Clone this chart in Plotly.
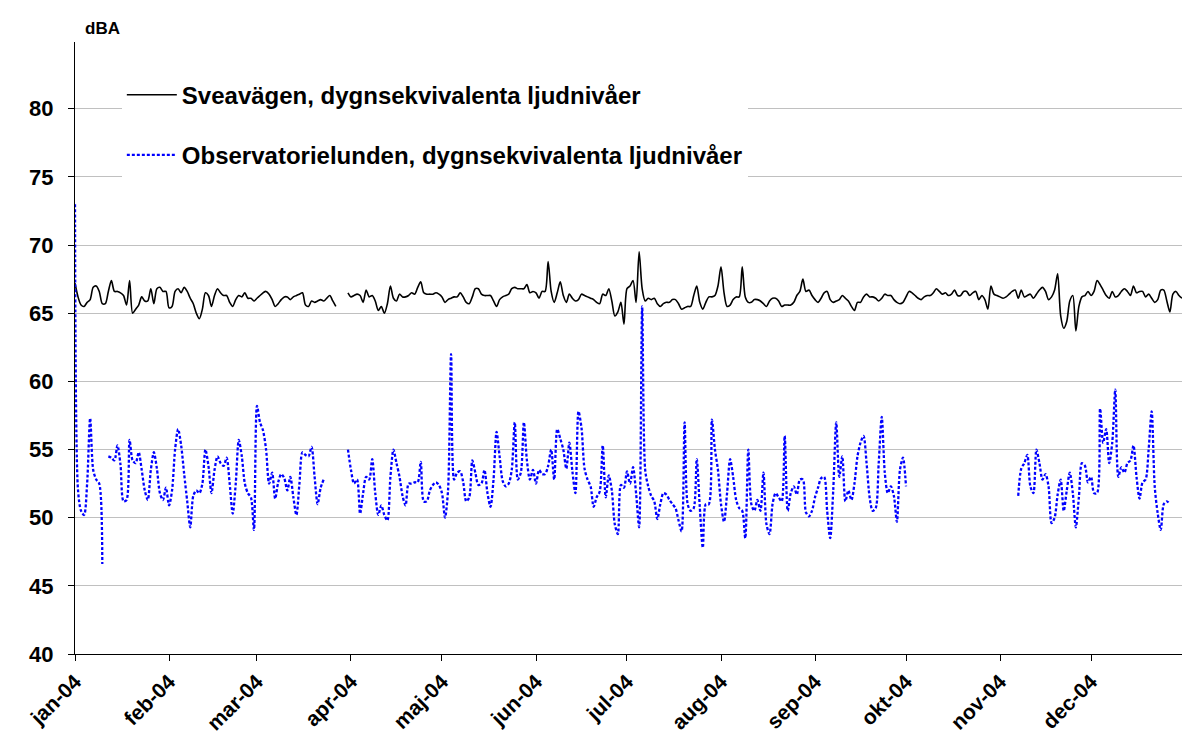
import pandas as pd
import plotly.graph_objects as go

N = None
dates = pd.date_range("2004-01-01", "2004-12-31", freq="D")

month_ticks = pd.date_range("2004-01-01", "2004-12-01", freq="MS")
month_labels = ["jan-04", "feb-04", "mar-04", "apr-04", "maj-04", "jun-04",
                "jul-04", "aug-04", "sep-04", "okt-04", "nov-04", "dec-04"]

sveavagen = [
    67.2, 66.2, 65.6, 65.5, 65.8, 66.0, 66.9, 67.0, 66.6, 65.7, 65.7, 66.6, 67.4, 66.6, 66.6, 66.5,
    66.3, 65.6, 67.4, 65.0, 65.3, 65.6, 66.2, 65.9, 65.9, 66.8, 65.7, 66.8, 66.9, 66.6, 66.6,
    65.4, 65.5, 66.6, 66.8, 66.5, 66.9, 66.6, 66.1, 65.7, 65.0, 64.6, 65.3, 66.5, 66.3, 65.5,
    66.3, 66.8, 66.5, 66.3, 66.3, 65.8, 65.5, 66.0, 66.3, 66.2, 66.5, 66.1, 66.1, 65.9,
    66.1, 66.3, 66.5, 66.6, 66.4, 66.0, 65.5, 65.7, 66.0, 66.2, 66.2, 66.0, 66.2, 66.3, 66.4,
    66.5, 65.6, 65.5, 65.9, 65.8, 65.9, 66.0, 65.9, 66.1, 66.3, 65.9, 65.5, N, N, N, 66.5,
    66.2, 66.3, 66.4, 66.3, 65.8, 66.7, 66.2, 66.3, 65.9, 65.2, 65.5, 65.0, 65.7, 67.0, 66.1,
    65.9, 66.4, 66.2, 66.2, 66.3, 66.5, 66.4, 66.9, 67.3, 66.5, 66.4, 66.4, 66.4, 66.5, 66.4,
    66.2, 65.8, 66.0, 66.1, 66.2, 66.2, 66.5, 66.2, 65.8, 65.7, 66.2, 66.8, 66.8, 66.4, 66.3,
    66.3, 66.3, 65.9, 65.5, 66.0, 66.2, 66.3, 66.4, 66.8, 66.9, 66.8, 66.8, 66.8, 67.1, 66.5,
    66.6, 66.5, 66.1, 66.6, 66.6, 68.8, 66.6, 65.8, 66.5, 67.3, 66.3, 65.8, 66.4, 66.1, 65.9,
    66.0, 66.4, 66.3, 66.2, 66.1, 66.0, 65.8, 65.7, 66.4, 66.3, 66.8, 65.9, 64.8, 65.1, 65.8,
    64.2, 66.8, 67.0, 67.4, 65.8, 69.5, 66.8, 65.9, 66.1, 66.0, 66.1, 65.7, 65.5, 65.7, 65.8,
    65.8, 66.0, 66.0, 65.7, 65.3, 65.4, 65.5, 65.5, 66.3, 67.0, 65.8, 65.3, 65.8, 66.2, 66.2,
    66.3, 67.0, 68.4, 66.5, 65.5, 65.6, 66.0, 66.2, 66.2, 68.4, 66.2, 65.8, 65.8, 66.0, 66.0,
    65.9, 65.7, 65.5, 65.9, 66.1, 66.1, 65.9, 65.5, 65.6, 65.6, 65.6, 65.8, 66.3, 66.6, 67.5,
    66.6, 66.7, 66.3, 66.0, 65.8, 66.1, 66.5, 66.6, 66.0, 65.8, 65.9, 66.0, 66.3, 66.1, 65.9,
    65.5, 65.2, 65.8, 65.8, 66.2, 66.4, 66.2, 66.2, 66.1, 65.9, 66.1, 66.4, 66.3, 66.3, 66.0,
    65.8, 65.7, 65.8, 66.2, 66.6, 66.5, 66.3, 66.1, 66.0, 66.2, 66.3, 66.3, 66.5, 66.8, 66.6,
    66.4, 66.5, 66.3, 66.4, 66.7, 66.3, 66.3, 66.6, 66.6, 66.3, 66.5, 66.6, 66.0, 66.3, 66.0,
    65.3, 67.0, 66.4, 66.3, 66.2, 66.1, 66.2, 66.4, 66.6, 66.7, 66.1, 66.7, 66.2, 66.3, 66.4,
    66.1, 66.4, 66.7, 66.9, 66.6, 66.0, 66.2, 66.7, 67.9, 64.8, 63.9, 64.4, 65.9, 66.3, 63.7,
    65.5, 66.2, 66.3, 66.6, 66.3, 66.6, 67.4, 67.1, 66.7, 66.3, 66.1, 66.6, 66.2, 66.3, 66.6,
    66.8, 66.6, 66.3, 67.0, 66.5, 66.6, 66.6, 66.2, 66.4, 66.1, 65.8, 66.0, 66.7, 66.7, 65.9,
    65.1, 66.4, 66.6, 66.3, 66.1,
]

observatorielunden = [
    73.0, 52.0, 50.5, 50.2, 52.5, 57.3, 53.5, 52.8, 52.5, 46.6, N, 54.5, 54.4, 54.2, 55.3, 53.9,
    51.2, 51.3, 55.7, 54.2, 54.0, 54.8, 53.5, 52.0, 51.3, 53.5, 54.8, 53.6, 51.8, 51.3, 52.2,
    50.9, 52.0, 55.0, 56.5, 55.3, 53.2, 51.2, 49.3, 51.6, 52.0, 51.8, 52.5, 55.0, 53.8, 51.8,
    53.5, 54.5, 54.0, 53.8, 54.4, 52.5, 50.3, 52.5, 55.7, 54.5, 52.5, 51.8, 51.5, 49.1,
    58.2, 57.0, 56.4, 55.0, 52.5, 53.3, 51.4, 52.6, 53.2, 52.9, 52.0, 53.0, 51.5, 50.2, 52.5,
    54.8, 54.6, 54.5, 55.2, 53.0, 51.0, 52.2, 52.8, N, N, N, N, N, N, N, 55.0,
    53.5, 52.5, 52.8, 50.3, 51.8, 53.0, 52.8, 54.3, 51.8, 50.2, 50.9, 50.2, 49.8, 53.0, 55.0,
    54.0, 53.0, 51.6, 50.9, 52.5, 52.5, 52.6, 52.6, 54.1, 51.2, 51.2, 52.0, 52.4, 52.6, 52.4,
    51.8, 50.0, 52.0, 62.0, 52.8, 53.3, 53.4, 52.6, 51.2, 51.5, 54.2, 53.3, 52.4, 52.5, 53.5,
    51.8, 50.8, 52.8, 56.3, 54.5, 52.7, 52.3, 52.5, 53.5, 57.0, 52.8, 53.3, 57.0, 54.2, 52.8,
    53.5, 52.5, 53.5, 53.2, 53.2, 53.8, 55.0, 52.8, 56.5, 55.8, 55.0, 53.6, 55.5, 53.4, 51.8,
    57.8, 56.6, 53.6, 52.8, 52.3, 50.8, 51.5, 51.9, 55.3, 51.5, 53.1, 52.0, 49.5, 48.8, 52.4,
    52.2, 53.4, 52.5, 53.7, 51.8, 49.3, 65.5, 53.5, 52.3, 51.6, 51.2, 49.9, 51.0, 51.8, 51.7,
    51.3, 51.0, 50.7, 49.8, 49.0, 57.0, 51.0, 50.5, 50.7, 54.3, 50.8, 47.8, 51.0, 51.0, 57.2,
    55.0, 53.5, 51.0, 49.7, 51.8, 54.3, 53.0, 51.3, 50.7, 50.5, 48.5, 55.0, 51.0, 50.5, 51.3,
    50.5, 53.3, 49.5, 48.8, 51.0, 51.8, 51.5, 51.2, 56.0, 50.5, 51.8, 52.3, 51.7, 52.8, 52.8,
    50.4, 50.1, 50.5, 51.5, 52.2, 52.9, 53.0, 50.5, 48.5, 52.0, 57.0, 53.0, 54.5, 51.2, 52.0,
    51.3, 52.5, 54.5, 55.5, 56.0, 54.0, 51.5, 50.5, 50.7, 54.0, 57.4, 53.3, 51.8, 52.3, 51.6,
    49.7, 53.5, 54.4, 52.3, N, N, N, N, N, N, N, N, N, N, N,
    N, N, N, N, N, N, N, N, N, N, N, N, N, N, N,
    N, N, N, N, N, N, N, N, N, N, 51.6, 53.6, 54.0, 54.6, 52.3,
    51.8, 55.0, 54.0, 52.8, 53.2, 52.3, 49.6, 50.0, 51.7, 52.8, 50.5, 52.0, 53.3, 51.8, 49.3,
    51.5, 54.0, 53.8, 52.6, 53.0, 51.8, 51.8, 58.0, 55.5, 56.5, 54.0, 55.5, 59.4, 53.0, 53.7,
    53.3, 54.0, 54.2, 55.3, 53.0, 51.4, 52.6, 52.8, 55.0, 57.8, 52.3, 50.3, 49.1, 51.0, 51.2,
    51.0,
]

series_names = ["Sveavägen, dygnsekvivalenta ljudnivåer",
                "Observatorielunden, dygnsekvivalenta ljudnivåer"]

y_ticks = [40, 45, 50, 55, 60, 65, 70, 75, 80]

FONT = "Liberation Sans, Arial, sans-serif"

fig = go.Figure()
fig.add_trace(go.Scatter(
    x=dates, y=sveavagen, mode="lines", name=series_names[0],
    line=dict(color="black", width=1.6, shape="spline", smoothing=0.8),
    connectgaps=False, legendgroup="a",
))
fig.add_trace(go.Scatter(
    x=dates, y=observatorielunden, mode="lines", name=series_names[1],
    line=dict(color="#0000ff", width=2.3, dash="3px,2px", shape="spline", smoothing=0.8),
    connectgaps=False, legendgroup="b",
))

fig.update_layout(
    width=1182, height=735,
    margin=dict(l=75, r=0, t=42, b=81),
    paper_bgcolor="white", plot_bgcolor="white",
    font=dict(family=FONT, color="black"),
    showlegend=True,
    legend=dict(
        x=0.0423, y=0.950, xanchor="left", yanchor="top",
        bgcolor="white", borderwidth=0,
        font=dict(family=FONT, size=24, weight="bold", color="black"),
        tracegroupgap=26, itemwidth=50,
    ),
    xaxis=dict(
        type="date", automargin=False,
        range=["2004-01-01", "2004-12-31"],
        tickmode="array", tickvals=month_ticks, ticktext=month_labels,
        tickangle=-45,
        tickfont=dict(family=FONT, size=21, weight="bold", color="black"),
        showgrid=False, zeroline=False,
        showline=True, linecolor="black", linewidth=1,
        ticks="outside", ticklen=6, tickcolor="black",
    ),
    yaxis=dict(
        range=[40, 84.9], automargin=False,
        tickmode="array", tickvals=y_ticks,
        tickfont=dict(family=FONT, size=22, weight="bold", color="black"),
        showgrid=True, gridcolor="#c0c0c0", gridwidth=1,
        zeroline=False,
        showline=True, linecolor="black", linewidth=1,
        ticks="outside", ticklen=6, tickcolor="black",
        ticklabelstandoff=10,
    ),
    annotations=[dict(
        text="<b>dBA</b>", xref="paper", yref="paper",
        x=(83 - 75) / 1107, y=1.0, xanchor="left", yanchor="bottom", yshift=2,
        showarrow=False, font=dict(family=FONT, size=17, color="black"),
    )],
)

fig.write_html(
    "out.html",
    config={"displayModeBar": False},
    post_script="document.body.style.margin='0';document.body.style.overflow='hidden';",
)
